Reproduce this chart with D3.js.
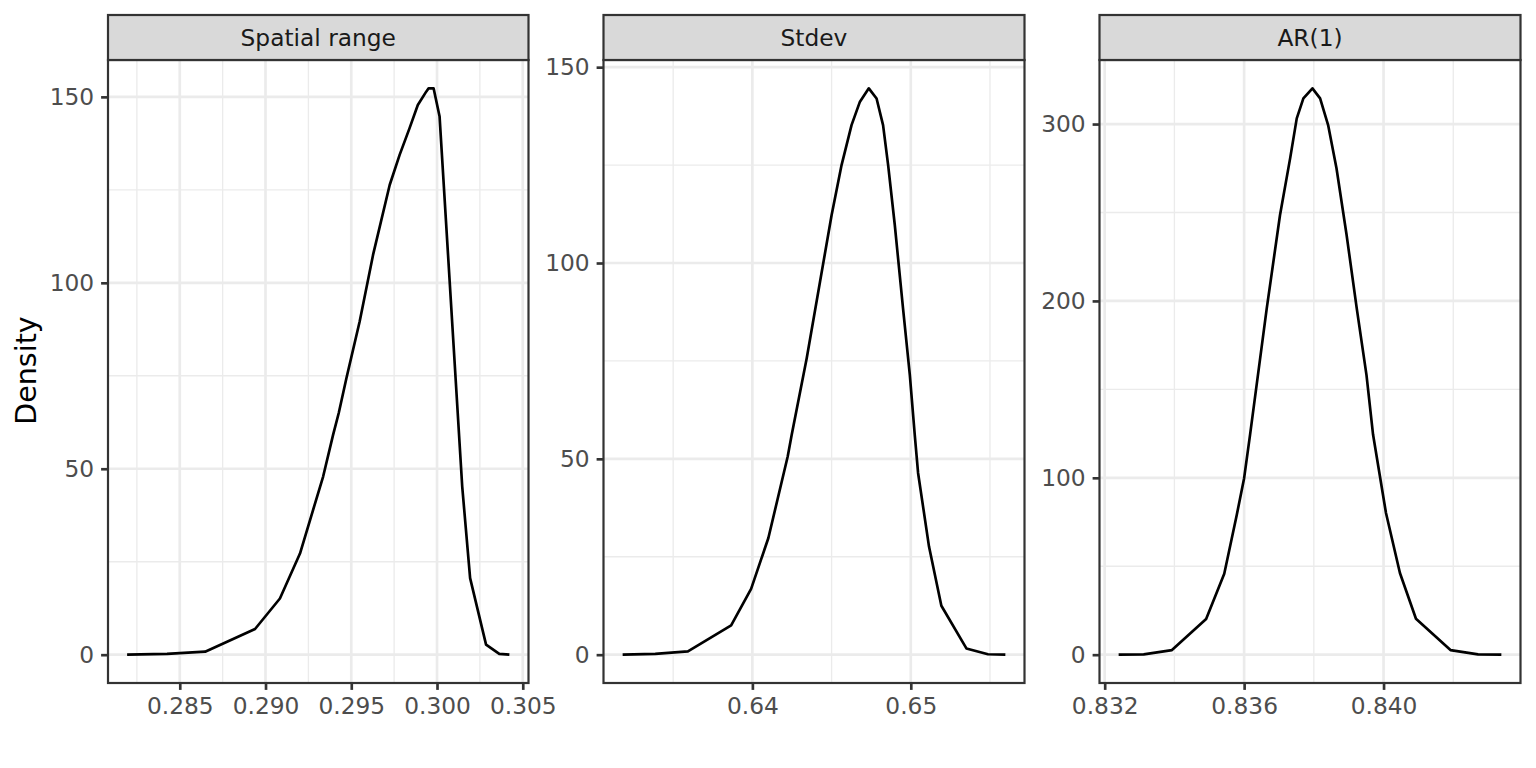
<!DOCTYPE html>
<html><head><meta charset="utf-8">
<script src="https://cdn.jsdelivr.net/npm/d3@7"></script>
<style>body{margin:0;background:#fff}svg{display:block}text{font-family:"DejaVu Sans",sans-serif}</style>
</head><body>
<svg id="c" width="1536" height="768"></svg>
<script>
// ---- data ----
const panelTitles = ["Spatial range", "Stdev", "AR(1)"];
const spatialX = [0.28193,0.28426,0.28648,0.28939,0.29084,0.29201,0.29336,0.29394,0.29427,0.29472,0.29549,0.29627,0.29724,0.29782,0.29840,0.29888,0.29937,0.29951,0.29980,0.30015,0.30147,0.30193,0.30286,0.30363,0.30422];
const spatialY = [0,0.2,0.8,6.9,15.1,27.2,47.9,59.1,65,74.4,89.6,107.5,126.3,134.4,141.6,147.8,151.4,152.3,152.3,144.7,45.2,20.6,2.7,0.2,0];
const stdevX = [0.63181,0.63387,0.63593,0.63866,0.63992,0.64101,0.64223,0.64248,0.64343,0.64427,0.64500,0.64563,0.64626,0.64679,0.64735,0.64784,0.64825,0.64857,0.64899,0.64951,0.64994,0.65025,0.65046,0.65115,0.65193,0.65351,0.65487,0.65597];
const stdevY = [0,0.2,0.85,7.5,16.8,29.8,50.6,56.1,75.7,95.2,112.2,125,135.2,141.2,144.6,142,135.2,125,109.7,88.4,71.4,56.1,46.4,27.6,12.5,1.6,0.1,0];
const ar1X = [0.83240,0.83312,0.83393,0.83491,0.83543,0.83579,0.83600,0.83617,0.83665,0.83703,0.83732,0.83751,0.83770,0.83796,0.83818,0.83841,0.83865,0.83894,0.83923,0.83951,0.83970,0.83985,0.84007,0.84047,0.84093,0.84192,0.84271,0.84338];
const ar1Y = [0,0.2,2.6,20.2,45.8,79.1,99.8,124.3,195.9,248.6,280.6,303.2,314.5,320.2,314.5,299.4,275,237.3,195.9,158.2,124.3,106.4,80.1,46.2,20.3,2.6,0.2,0];
const spatialXTicks = [0.285,0.290,0.295,0.300,0.305];
const stdevXTicks = [0.64,0.65];
const ar1XTicks = [0.832,0.836,0.840];
const spatialYTicks = [0,50,100,150];
const stdevYTicks = [0,50,100,150];
const ar1YTicks = [0,100,200,300];
const xTickFormats = [".3f", ".2f", ".3f"];
const yTitle = "Density";

// ---- layout ----
const panels = [
  {x0:108, x1:528.5, xs:spatialX, ys:spatialY, xt:spatialXTicks, yt:spatialYTicks},
  {x0:603.5, x1:1024.5, xs:stdevX, ys:stdevY, xt:stdevXTicks, yt:stdevYTicks},
  {x0:1099.5, x1:1520.5, xs:ar1X, ys:ar1Y, xt:ar1XTicks, yt:ar1YTicks}
];
const plotTop = 60, plotBottom = 683, stripTop = 15;
const svg = d3.select("#c");
const gridCol = "#EBEBEB", dark = "#333333";
const fs = 23.3;

function expand(ext, inc0){
  let lo = ext[0], hi = ext[1];
  if (inc0){ lo = Math.min(lo,0); hi = Math.max(hi,0); }
  const r = hi - lo; return [lo - 0.05*r, hi + 0.05*r];
}
function minors(t, dom){
  const s = t[1]-t[0], out = [];
  for (let v = t[0]-s/2; v <= dom[1]+1e-12; v += s) if (v >= dom[0]) out.push(v);
  return out;
}

panels.forEach((p, i) => {
  const data = p.xs.map((x,k)=>({x, y:p.ys[k]}));
  const x = d3.scaleLinear().domain(expand(d3.extent(p.xs))).range([p.x0, p.x1]);
  const y = d3.scaleLinear().domain(expand(d3.extent(p.ys), true)).range([plotBottom, plotTop]);
  const g = svg.append("g");
  minors(p.xt, x.domain()).forEach(v => g.append("line").attr("x1",x(v)).attr("x2",x(v)).attr("y1",plotTop).attr("y2",plotBottom).attr("stroke",gridCol).attr("stroke-width",1.33));
  minors(p.yt, y.domain()).forEach(v => g.append("line").attr("y1",y(v)).attr("y2",y(v)).attr("x1",p.x0).attr("x2",p.x1).attr("stroke",gridCol).attr("stroke-width",1.33));
  p.xt.forEach(v => g.append("line").attr("x1",x(v)).attr("x2",x(v)).attr("y1",plotTop).attr("y2",plotBottom).attr("stroke",gridCol).attr("stroke-width",2.67));
  p.yt.forEach(v => g.append("line").attr("y1",y(v)).attr("y2",y(v)).attr("x1",p.x0).attr("x2",p.x1).attr("stroke",gridCol).attr("stroke-width",2.67));
  g.append("path").datum(data).attr("fill","none").attr("stroke","#000").attr("stroke-width",2.67)
    .attr("stroke-linejoin","round").attr("d", d3.line().x(d=>x(d.x)).y(d=>y(d.y)));
  g.append("rect").attr("x",p.x0).attr("y",plotTop).attr("width",p.x1-p.x0).attr("height",plotBottom-plotTop)
    .attr("fill","none").attr("stroke",dark).attr("stroke-width",2.2);
  g.append("rect").attr("x",p.x0).attr("y",stripTop).attr("width",p.x1-p.x0).attr("height",plotTop-stripTop)
    .attr("fill","#D9D9D9").attr("stroke",dark).attr("stroke-width",2.2);
  g.append("text").attr("x",(p.x0+p.x1)/2).attr("y",(stripTop+plotTop)/2).attr("dy","0.36em")
    .attr("text-anchor","middle").attr("font-size",fs).attr("fill","#1A1A1A").text(panelTitles[i]);
  const xa = g.append("g").attr("transform",`translate(0,${plotBottom})`)
    .call(d3.axisBottom(x).tickValues(p.xt).tickFormat(d3.format(xTickFormats[i])).tickSize(6.9).tickPadding(8));
  const ya = g.append("g").attr("transform",`translate(${p.x0},0)`)
    .call(d3.axisLeft(y).tickValues(p.yt).tickFormat(d3.format("d")).tickSize(6.9).tickPadding(7));
  [xa, ya].forEach(a => {
    a.select(".domain").remove();
    a.selectAll(".tick line").attr("stroke",dark).attr("stroke-width",2.67);
    a.selectAll(".tick text").attr("fill","#4D4D4D").attr("font-size",fs).attr("font-family","DejaVu Sans");
  });
});

svg.append("text").attr("transform","translate(36,370.5) rotate(-90)").attr("text-anchor","middle")
  .attr("font-size",28.5).attr("fill","#000").text(yTitle);
</script>
</body></html>
